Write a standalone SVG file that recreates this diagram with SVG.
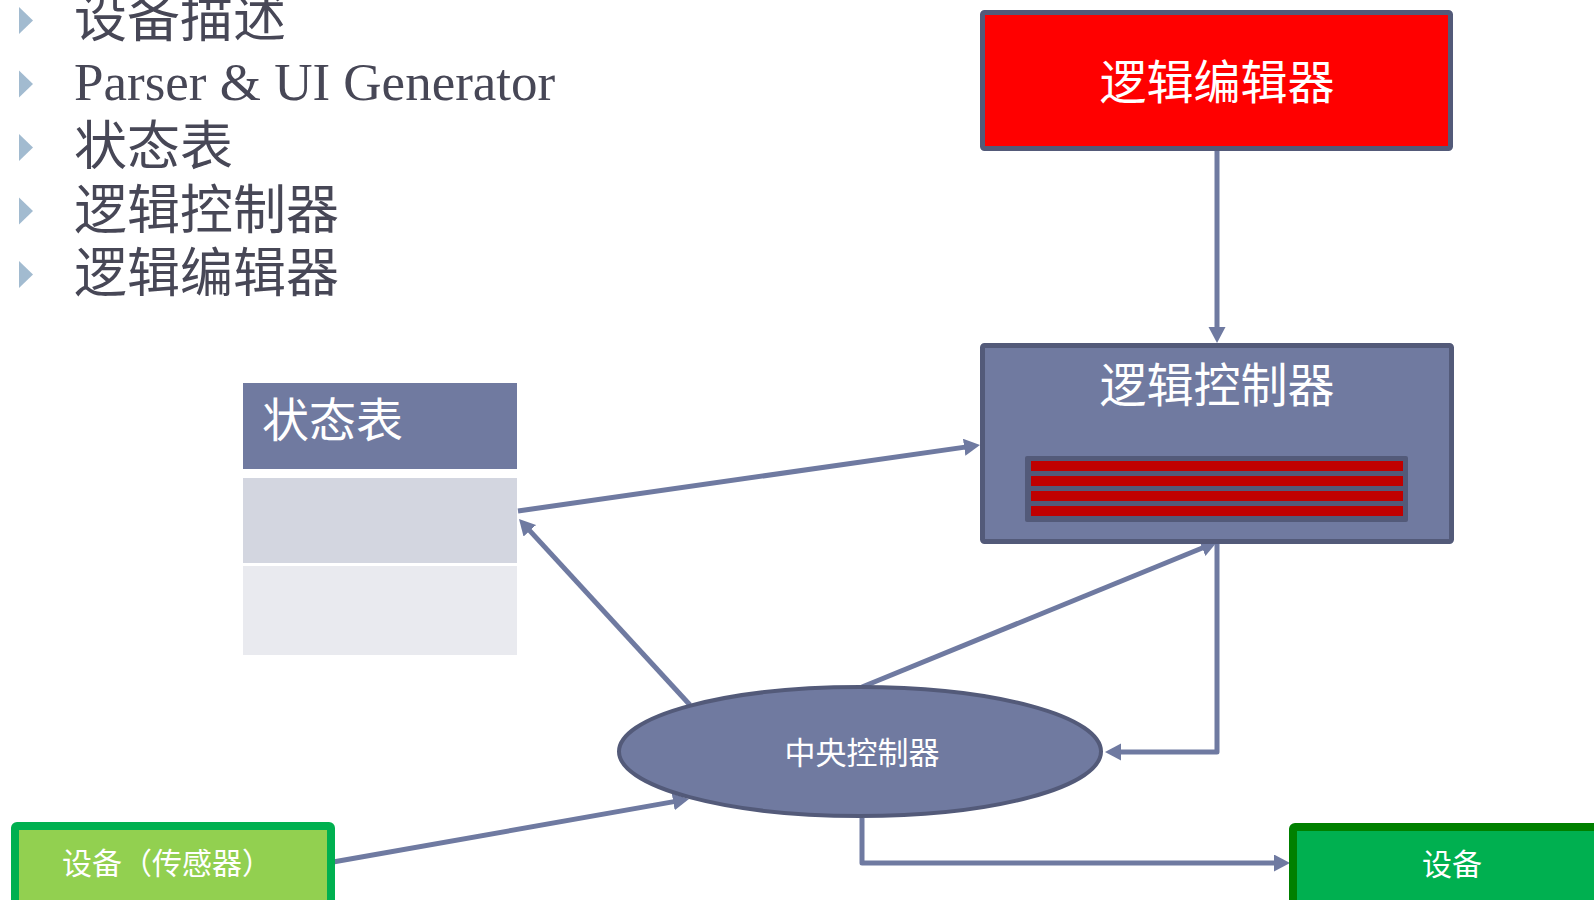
<svg xmlns="http://www.w3.org/2000/svg" width="1594" height="900" viewBox="0 0 1594 900">
<defs>
<style>
.txt{font-family:"Liberation Serif","Noto Sans CJK SC",serif;}
.bullet-text{font-size:53px;fill:#474756;}
.bullet{fill:#A2BBD0;}
.wt{fill:#FFFFFF;}
.conn{fill:none;stroke:#6F7AA1;stroke-width:5;stroke-linejoin:round;}
.box{stroke:#535A79;stroke-width:5;}
</style>
<marker id="arr" markerUnits="userSpaceOnUse" markerWidth="18" markerHeight="18" refX="8" refY="8.5" orient="auto">
<path d="M0,0 L16,8.5 L0,17 Z" fill="#6F7AA1"/>
</marker>
</defs>
<rect x="0" y="0" width="1594" height="900" fill="#FFFFFF"/>

<g id="bullets">
<polygon class="bullet" points="19,7 33,20.5 19,34"/>
<polygon class="bullet" points="19,70.5 33,84 19,97.5"/>
<polygon class="bullet" points="19,134 33,147.5 19,161"/>
<polygon class="bullet" points="19,197.5 33,211 19,224.5"/>
<polygon class="bullet" points="19,261 33,274.5 19,288"/>
<text class="txt bullet-text" x="74" y="37">设备描述</text>
<text class="txt bullet-text" x="74" y="99.5">Parser &amp; UI Generator</text>
<text class="txt bullet-text" x="74" y="165">状态表</text>
<text class="txt bullet-text" x="74" y="229">逻辑控制器</text>
<text class="txt bullet-text" x="74" y="292">逻辑编辑器</text>
</g>

<g id="connectors">
<path class="conn" d="M1217,151 V335" marker-end="url(#arr)"/>
<path class="conn" d="M518,511 L972.1,446.1" marker-end="url(#arr)"/>
<path class="conn" d="M690,705 L524.4,524.9" marker-end="url(#arr)"/>
<path class="conn" d="M862,687 L1209.6,545" marker-end="url(#arr)"/>
<path class="conn" d="M1217,544 V752 H1113" marker-end="url(#arr)"/>
<path class="conn" d="M333,862 L681.1,800.4" marker-end="url(#arr)"/>
<path class="conn" d="M862,818 V863 H1282" marker-end="url(#arr)"/>
</g>

<g id="logic-editor">
<rect class="box" x="982.5" y="12.5" width="468" height="136" rx="2" fill="#FF0000"/>
<text class="txt wt" x="1217" y="99" font-size="47" text-anchor="middle">逻辑编辑器</text>
</g>

<g id="logic-controller">
<rect class="box" x="982.5" y="345.5" width="469" height="196" rx="2" fill="#707AA0"/>
<text class="txt wt" x="1217" y="402" font-size="47" text-anchor="middle">逻辑控制器</text>
<rect x="1025" y="456" width="383" height="66" rx="2" fill="#535A79"/>
<rect x="1031" y="461" width="372" height="10" fill="#C00000"/>
<rect x="1031" y="476" width="372" height="10" fill="#C00000"/>
<rect x="1031" y="491" width="372" height="10" fill="#C00000"/>
<rect x="1031" y="506" width="372" height="10" fill="#C00000"/>
</g>

<g id="state-table">
<rect x="243" y="383" width="274" height="86" fill="#707AA0"/>
<text class="txt wt" x="262" y="437" font-size="47">状态表</text>
<rect x="243" y="478" width="274" height="85" fill="#D3D6E0"/>
<rect x="243" y="566" width="274" height="89" fill="#E9EAEF"/>
</g>

<g id="central-controller">
<ellipse cx="860" cy="751.5" rx="241" ry="64.5" fill="#707AA0" stroke="#535A79" stroke-width="4"/>
<text class="txt wt" x="862" y="764" font-size="31" text-anchor="middle">中央控制器</text>
</g>

<g id="sensor-device">
<rect x="15" y="826" width="316" height="100" rx="2" fill="#92D050" stroke="#00B050" stroke-width="8"/>
<text class="txt wt" x="167" y="874" font-size="30" text-anchor="middle">设备（传感器）</text>
</g>

<g id="device">
<rect x="1293" y="827" width="400" height="100" rx="2" fill="#00B050" stroke="#008000" stroke-width="8"/>
<text class="txt wt" x="1452" y="875" font-size="30" text-anchor="middle">设备</text>
</g>
</svg>
